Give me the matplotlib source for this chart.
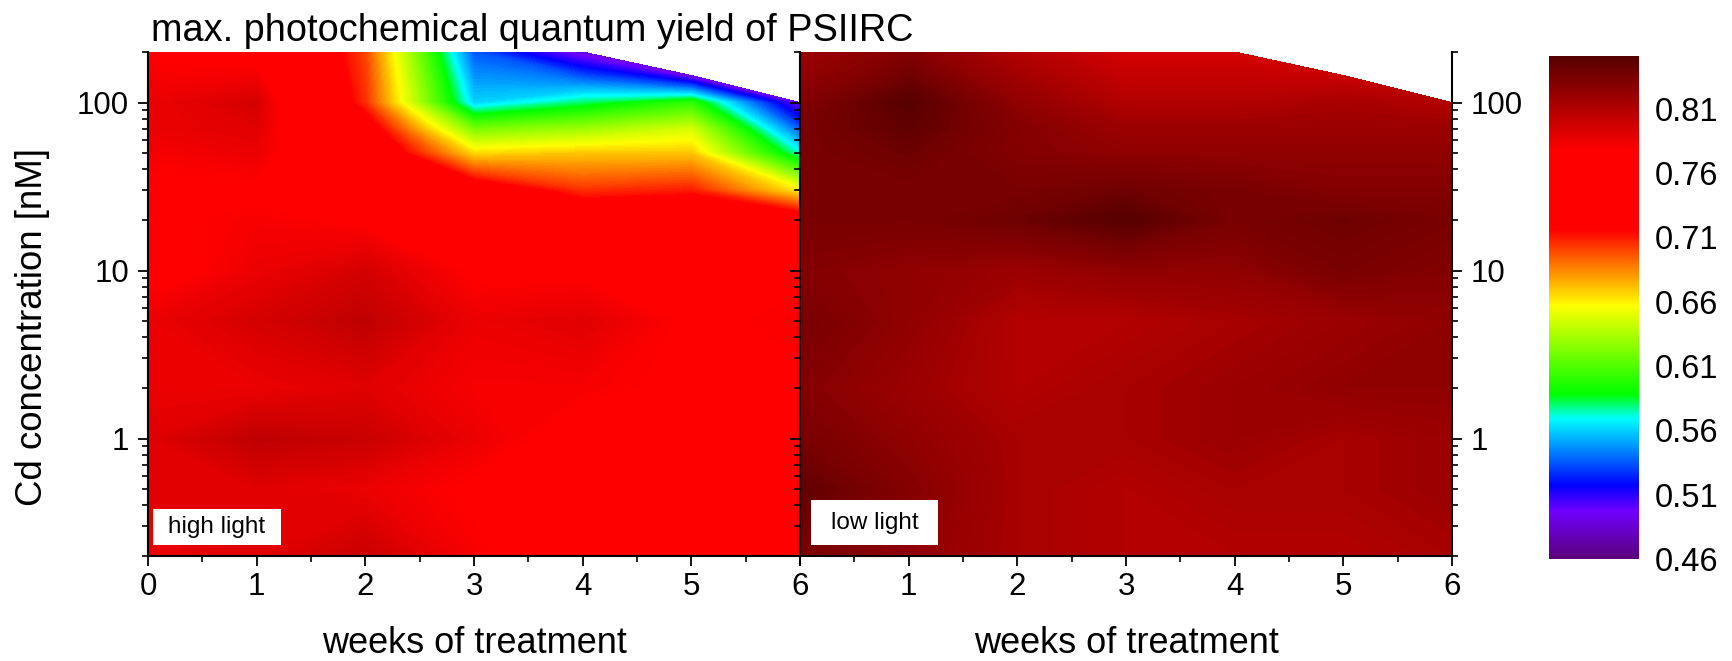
import numpy as np
import matplotlib
matplotlib.use("Agg")
import matplotlib.pyplot as plt
from matplotlib.colors import LinearSegmentedColormap, Normalize
from matplotlib.patches import Rectangle

plt.rcParams['font.family'] = ['Liberation Sans', 'DejaVu Sans']

weeks = [0, 1, 2, 3, 4, 5, 6]
conc = [0.2, 0.5, 1, 2, 5, 10, 20, 30, 50, 70, 100, 200]
conc_top = [200, 200, 200, 200, 200, 145, 100]   # upper edge of the measured range

high_light = [
    [.785, .790, .800, .780, .765, .755, .765],
    [.790, .790, .785, .775, .760, .755, .755],
    [.790, .805, .800, .785, .770, .755, .755],
    [.785, .785, .790, .780, .780, .775, .775],
    [.785, .795, .805, .785, .790, .775, .780],
    [.770, .785, .795, .775, .775, .770, .775],
    [.775, .780, .775, .765, .740, .745, .735],
    [.775, .775, .760, .735, .705, .710, .660],
    [.780, .785, .745, .665, .670, .670, .572],
    [.785, .790, .730, .620, .630, .645, .535],
    [.785, .795, .705, .560, .580, .600, .495],
    [.775, .770, .700, .535, .490, .490, .490],
]
low_light = [
    [.835, .825, .815, .810, .810, .810, .815],
    [.845, .830, .815, .810, .815, .815, .820],
    [.835, .825, .815, .815, .820, .815, .820],
    [.830, .820, .810, .815, .820, .825, .825],
    [.835, .825, .810, .810, .815, .820, .825],
    [.830, .825, .820, .825, .825, .835, .830],
    [.835, .835, .840, .850, .835, .840, .835],
    [.835, .835, .835, .840, .835, .830, .830],
    [.835, .840, .830, .825, .825, .825, .825],
    [.835, .845, .830, .820, .820, .820, .820],
    [.830, .850, .825, .810, .810, .815, .810],
    [.820, .830, .810, .795, .795, .800, .810],
]

cbar_ticks = [0.46, 0.51, 0.56, 0.61, 0.66, 0.71, 0.76, 0.81]
vmin, vmax = 0.46, 0.851

stops = [(0.46, '#5a007a'), (0.497, '#7000ff'), (0.517, '#0000ff'), (0.569, '#00ffff'),
         (0.588, '#00ff00'), (0.657, '#ffff00'), (0.716, '#ff0000'), (0.777, '#ff0000'),
         (0.851, '#550000')]
cmap = LinearSegmentedColormap.from_list(
    'psii', [((v - vmin) / (vmax - vmin), c) for v, c in stops], N=512)
norm = Normalize(vmin, vmax)
levels = np.linspace(vmin, vmax, 240)

W, H = 1733, 661
fig = plt.figure(figsize=(W / 100, H / 100), dpi=100)


def px_axes(x0, y0, x1, y1):
    return fig.add_axes([x0 / W, 1 - y1 / H, (x1 - x0) / W, (y1 - y0) / H])


ax1 = px_axes(148, 52, 800, 556)
ax2 = px_axes(800, 52, 1452, 556)
cax = px_axes(1549, 56, 1639, 559)

X, Y = np.meshgrid(weeks, conc)
Y = Y.astype(float)
Y[-1] = conc_top
logY = np.log10(Y)

# axis is linear in log10(c) so the contour interpolation runs in screen space
major = [1, 10, 100]
minor = [m * d for d in (0.1, 1, 10, 100) for m in range(2, 10) if 0.2 <= m * d <= 200]

for ax, z in ((ax1, high_light), (ax2, low_light)):
    ax.contourf(X, logY, np.array(z), levels=levels, cmap=cmap, norm=norm, extend='both')
    ax.set_xlim(0, 6)
    ax.set_ylim(np.log10(0.2), np.log10(200))
    ax.set_xticks(weeks)
    ax.set_xticks(np.arange(0.5, 6, 1), minor=True)
    ax.set_yticks(np.log10(major), [str(m) for m in major])
    ax.set_yticks(np.log10(minor), minor=True)
    ax.tick_params(which='major', length=7.5, width=1.3, labelsize=22.5, pad=6, direction='out')
    ax.tick_params(axis='x', which='major', pad=4)
    ax.tick_params(which='minor', length=4.5, width=1.2, direction='out')
    ax.spines['top'].set_visible(False)
    for s in ax.spines.values():
        s.set_linewidth(1.5)
    ax.set_xlabel('weeks of treatment', fontsize=26, labelpad=17)

ax1.spines['right'].set_visible(False)
ax2.set_xticklabels(['', '1', '2', '3', '4', '5', '6'])
ax2.tick_params(axis='y', which='both', left=True, right=True, labelleft=False, labelright=True)

fig.text(33 / W, 1 - 327 / H, 'Cd concentration [nM]', fontsize=26.4, rotation=90,
         ha='center', va='center')
ax1.set_title('max. photochemical quantum yield of PSIIRC', loc='left', fontsize=27.3, pad=8, x=0.005)

# inset labels
for ax, txt, box in ((ax1, 'high light', (153, 509, 281, 545)), (ax2, 'low light', (811, 500, 938, 545))):
    bb = ax.get_position()
    x0 = (box[0] / W - bb.x0) / bb.width
    x1 = (box[2] / W - bb.x0) / bb.width
    y0 = ((1 - box[3] / H) - bb.y0) / bb.height
    y1 = ((1 - box[1] / H) - bb.y0) / bb.height
    ax.add_patch(Rectangle((x0, y0), x1 - x0, y1 - y0, transform=ax.transAxes,
                           facecolor='white', edgecolor='none', zorder=3))
    ax.text((x0 + x1) / 2, (y0 + y1) / 2, txt, transform=ax.transAxes, ha='center', va='center',
            fontsize=17.5, zorder=4)

# colour bar
grad = np.linspace(vmin, vmax, 512).reshape(-1, 1)
cax.imshow(grad, origin='lower', aspect='auto', cmap=cmap, norm=norm, extent=[0, 1, vmin, vmax])
cax.set_xticks([])
cax.yaxis.tick_right()
cax.set_yticks(cbar_ticks, ['%.2f' % t for t in cbar_ticks])
cax.tick_params(axis='y', length=0, labelsize=23.5, pad=11)
for s in cax.spines.values():
    s.set_visible(False)
cax.set_ylim(vmin, vmax)

fig.savefig('out.png', dpi=100)
